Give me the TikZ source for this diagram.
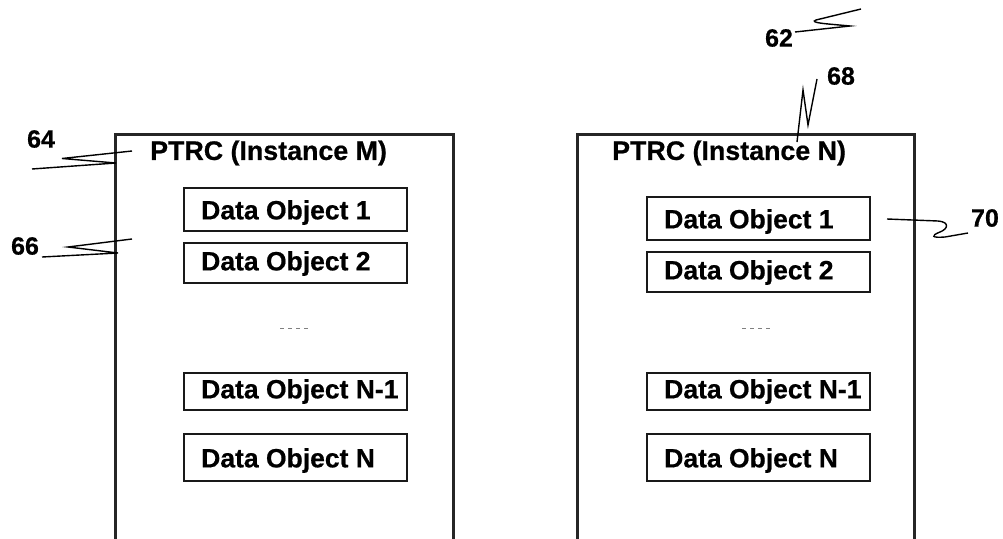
\documentclass[tikz,border=0pt]{standalone}
\usepackage{fontspec}
\setmainfont{Liberation Sans}[BoldFeatures={FakeBold=0.6}]
\begin{document}
\begin{tikzpicture}[x=1pt,y=-1pt,
  container/.style={draw=black!85, line width=2.6pt, anchor=north west, inner sep=0pt},
  objbox/.style={draw=black!90, line width=2pt, minimum width=223pt, inner sep=0pt},
  objtext/.style={font=\fontsize{26.5}{30}\selectfont\bfseries, inner sep=0pt, anchor=west},
  title/.style={font=\fontsize{26.8}{30}\selectfont\bfseries, inner sep=0pt},
  refnum/.style={font=\fontsize{25}{28}\selectfont\bfseries, inner sep=0pt},
  leader/.style={line width=1.4pt, black},
  gap/.style={gray, line width=0.8pt, dash pattern=on 4pt off 4pt}]
\useasboundingbox (0,0) rectangle (1003,538);
\begin{scope}
\clip (0,0) rectangle (1003,538);

% two instance containers
\node[container, minimum width=338pt, minimum height=407pt] (instM) at (114,133) {};
\node[container, minimum width=337pt, minimum height=407pt] (instN) at (576,133) {};

% titles
\node[title, anchor=west] (titM) at (150,153) {PTRC (Instance M)};
\node[title, anchor=west] (titN) at (612,153) {PTRC (Instance N)};

% data objects, instance M
\node[objbox, minimum height=43pt] (m1) at (295.5,209.5) {};
\node[objbox, minimum height=40pt] (m2) at (295.5,262.5) {};
\node[objbox, minimum height=37pt] (m3) at (295.5,391.5) {};
\node[objbox, minimum height=47pt] (m4) at (295.5,457.5) {};
\node[objtext] (m1t) at ([xshift=18pt,yshift=-3pt]m1.west) {Data Object 1};
\node[objtext] (m2t) at ([xshift=18pt,yshift=-1pt]m2.west) {Data Object 2};
\node[objtext] (m3t) at ([xshift=18pt]m3.west) {Data Object N-1};
\node[objtext] (m4t) at ([xshift=18pt,yshift=-3pt]m4.west) {Data Object N};
\coordinate (dmL) at (280,328);
\coordinate (dmR) at (311,328);
\draw[gap] (dmL) -- (dmR);

% data objects, instance N
\node[objbox, minimum height=43pt] (n1) at (758.5,218.5) {};
\node[objbox, minimum height=40pt] (n2) at (758.5,271.5) {};
\node[objbox, minimum height=37pt] (n3) at (758.5,391.5) {};
\node[objbox, minimum height=47pt] (n4) at (758.5,457.5) {};
\node[objtext] (n1t) at ([xshift=18pt,yshift=-3pt]n1.west) {Data Object 1};
\node[objtext] (n2t) at ([xshift=18pt,yshift=-1pt]n2.west) {Data Object 2};
\node[objtext] (n3t) at ([xshift=18pt]n3.west) {Data Object N-1};
\node[objtext] (n4t) at ([xshift=18pt,yshift=-3pt]n4.west) {Data Object N};
\coordinate (dnL) at (742,328);
\coordinate (dnR) at (773,328);
\draw[gap] (dnL) -- (dnR);

% reference numerals
\node[refnum] (r62) at (779,38) {62};
\node[refnum] (r64) at (41,139) {64};
\node[refnum] (r66) at (25,246) {66};
\node[refnum] (r68) at (841,76) {68};
\node[refnum] (r70) at (985,218) {70};

% leader lines
\coordinate (l62) at (795,32);
\draw[leader] (l62) -- (850,26) .. controls (830,24) and (808,23) .. (816,20) -- (861,9);
\coordinate (l64) at (32,169);
\draw[leader] (l64) -- (116,163) -- (62,158.5) -- (132,151);
\coordinate (l66) at (42,257);
\draw[leader] (l66) -- (118,253) -- (68,247) -- (132,239);
\coordinate (l68) at (797,142);
\draw[leader] (l68) -- (803,90) -- (808,125) -- (817,79);
\coordinate (l70) at (887,219);
\draw[leader] (l70) -- (938,221) .. controls (950,222) and (948,229) .. (940,232)
  .. controls (930,236) and (932,238) .. (945,237) -- (968,233);
\end{scope}
\end{tikzpicture}
\end{document}
